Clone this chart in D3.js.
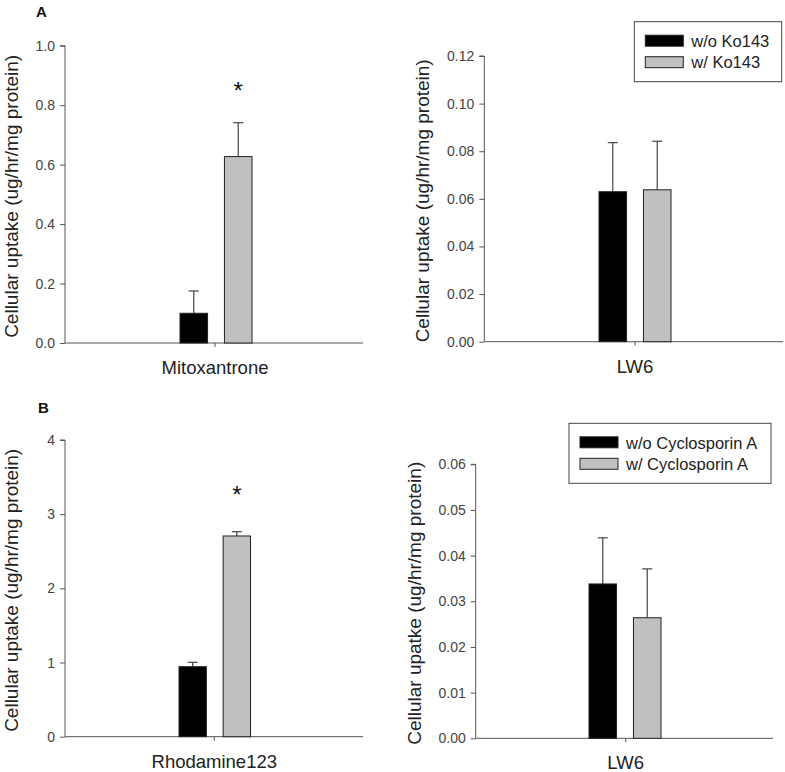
<!DOCTYPE html>
<html>
<head>
<meta charset="utf-8">
<script src="https://cdn.jsdelivr.net/npm/d3@7"></script>
<style>
  body { margin: 0; background: #fff; }
  svg text { font-family: "Liberation Sans", Arial, sans-serif; }
  .axis path, .axis line { stroke: #555; }
  .axis text { fill: #444; font-size: 14px; }
</style>
</head>
<body>
<div id="chart"></div>
<script>
// data
const seriesA = ['w/o Ko143', 'w/ Ko143'];
const seriesB = ['w/o Cyclosporin A', 'w/ Cyclosporin A'];
const mitoxValues = [0.100, 0.627];
const mitoxErrors = [0.075, 0.114];
const lw6KoValues = [0.0630, 0.0638];
const lw6KoErrors = [0.0206, 0.0204];
const rhodValues = [0.944, 2.706];
const rhodErrors = [0.059, 0.058];
const lw6CsaValues = [0.0338, 0.0264];
const lw6CsaErrors = [0.0101, 0.0107];
const ticksMitox = [0, 0.2, 0.4, 0.6, 0.8, 1.0];
const ticksLw6Ko = [0, 0.02, 0.04, 0.06, 0.08, 0.10, 0.12];
const ticksRhod = [0, 1, 2, 3, 4];
const ticksLw6Csa = [0, 0.01, 0.02, 0.03, 0.04, 0.05, 0.06];
const barColors = ['#000000', '#c0c0c0'];

const svg = d3.select('#chart').append('svg')
  .attr('width', 785).attr('height', 772);

function drawPanel(o) {
  const g = svg.append('g');
  const y = d3.scaleLinear().domain([0, o.max]).range([o.y0, o.y1]);
  const x = d3.scaleBand().domain(o.series).range([o.bx0, o.bx1]).paddingInner(0.38);

  g.append('g').attr('class', 'axis')
    .attr('transform', `translate(${o.ax},0)`)
    .call(d3.axisLeft(y).tickValues(o.ticks).tickFormat(d3.format(o.fmt)).tickSize(5).tickPadding(5))
    .call(s => s.select('.domain').attr('d', `M-5,${o.y1}H0V${o.y0}`));

  // x axis: plain line with one small tick under the group
  g.append('line').attr('x1', o.ax).attr('x2', o.axEnd).attr('y1', o.y0).attr('y2', o.y0)
    .attr('stroke', '#555');
  g.append('line').attr('x1', o.tick).attr('x2', o.tick).attr('y1', o.y0).attr('y2', o.y0 + 4)
    .attr('stroke', '#555');

  const bars = g.selectAll('.bar').data(o.values).join('g');
  bars.append('line')
    .attr('x1', (d, i) => x(o.series[i]) + x.bandwidth() / 2)
    .attr('x2', (d, i) => x(o.series[i]) + x.bandwidth() / 2)
    .attr('y1', d => y(d)).attr('y2', (d, i) => y(d + o.errors[i]))
    .attr('stroke', '#444').attr('stroke-width', 1.2);
  bars.append('line')
    .attr('x1', (d, i) => x(o.series[i]) + x.bandwidth() / 2 - 5)
    .attr('x2', (d, i) => x(o.series[i]) + x.bandwidth() / 2 + 5)
    .attr('y1', (d, i) => y(d + o.errors[i])).attr('y2', (d, i) => y(d + o.errors[i]))
    .attr('stroke', '#444').attr('stroke-width', 1.2);
  bars.append('rect')
    .attr('x', (d, i) => x(o.series[i]))
    .attr('width', x.bandwidth())
    .attr('y', d => y(d)).attr('height', d => o.y0 - y(d))
    .attr('fill', (d, i) => barColors[i])
    .attr('stroke', '#222').attr('stroke-width', 1);

  if (o.star) {
    const i = 1;
    g.append('text').attr('x', x(o.series[i]) + x.bandwidth() / 2)
      .attr('y', y(o.values[i] + o.errors[i]) - o.star)
      .attr('text-anchor', 'middle').attr('font-size', 24).attr('fill', '#111').text('*');
  }

  g.append('text').attr('x', o.tick).attr('y', o.y0 + 31)
    .attr('text-anchor', 'middle').attr('font-size', 18.5).attr('fill', '#222').text(o.label);

  g.append('text')
    .attr('transform', `translate(${o.titleX},${(o.y0 + o.y1) / 2 + 2}) rotate(-90)`)
    .attr('text-anchor', 'middle').attr('font-size', 19).attr('fill', '#222').text(o.title);

  if (o.legend) {
    const L = o.legend;
    g.append('rect').attr('x', L.x).attr('y', L.y).attr('width', L.w).attr('height', L.h)
      .attr('fill', '#fff').attr('stroke', '#444');
    o.series.forEach((s, i) => {
      g.append('rect').attr('x', L.x + 11).attr('y', L.y + 13.5 + i * 21.5)
        .attr('width', 38).attr('height', 11)
        .attr('fill', barColors[i]).attr('stroke', '#222');
      g.append('text').attr('x', L.x + 57).attr('y', L.y + 25.5 + i * 21)
        .attr('font-size', 16.5).attr('fill', '#222').text(s);
    });
  }
}

drawPanel({ series: seriesA, values: mitoxValues, errors: mitoxErrors, max: 1.0, ticks: ticksMitox, fmt: '.1f',
  ax: 65, axEnd: 363, y0: 343, y1: 45.7, bx0: 180, bx1: 252, tick: 215, titleX: 18,
  label: 'Mitoxantrone', title: 'Cellular uptake (ug/hr/mg protein)', star: 24 });

drawPanel({ series: seriesA, values: lw6KoValues, errors: lw6KoErrors, max: 0.12, ticks: ticksLw6Ko, fmt: '.2f',
  ax: 484.3, axEnd: 783, y0: 341.7, y1: 56, bx0: 599, bx1: 671, tick: 635, titleX: 429,
  label: 'LW6', title: 'Cellular uptake (ug/hr/mg protein)',
  legend: { x: 634.3, y: 21.7, w: 147.4, h: 60 } });

drawPanel({ series: seriesA, values: rhodValues, errors: rhodErrors, max: 4, ticks: ticksRhod, fmt: 'd',
  ax: 65, axEnd: 363, y0: 736.7, y1: 440, bx0: 179, bx1: 250.5, tick: 214.3, titleX: 18,
  label: 'Rhodamine123', title: 'Cellular uptake (ug/hr/mg protein)', star: 29 });

drawPanel({ series: seriesB, values: lw6CsaValues, errors: lw6CsaErrors, max: 0.06, ticks: ticksLw6Csa, fmt: '.2f',
  ax: 475.7, axEnd: 773, y0: 738.3, y1: 464.3, bx0: 589, bx1: 661, tick: 625.7, titleX: 421,
  label: 'LW6', title: 'Cellular upatke (ug/hr/mg protein)',
  legend: { x: 569, y: 423.3, w: 202, h: 60 } });

svg.append('text').attr('x', 36).attr('y', 17).attr('font-family', '"Liberation Serif", serif')
  .attr('font-weight', 'bold').attr('font-size', 15).attr('fill', '#111').text('A');
svg.append('text').attr('x', 38).attr('y', 413).attr('font-family', '"Liberation Serif", serif')
  .attr('font-weight', 'bold').attr('font-size', 15).attr('fill', '#111').text('B');
</script>
</body>
</html>
